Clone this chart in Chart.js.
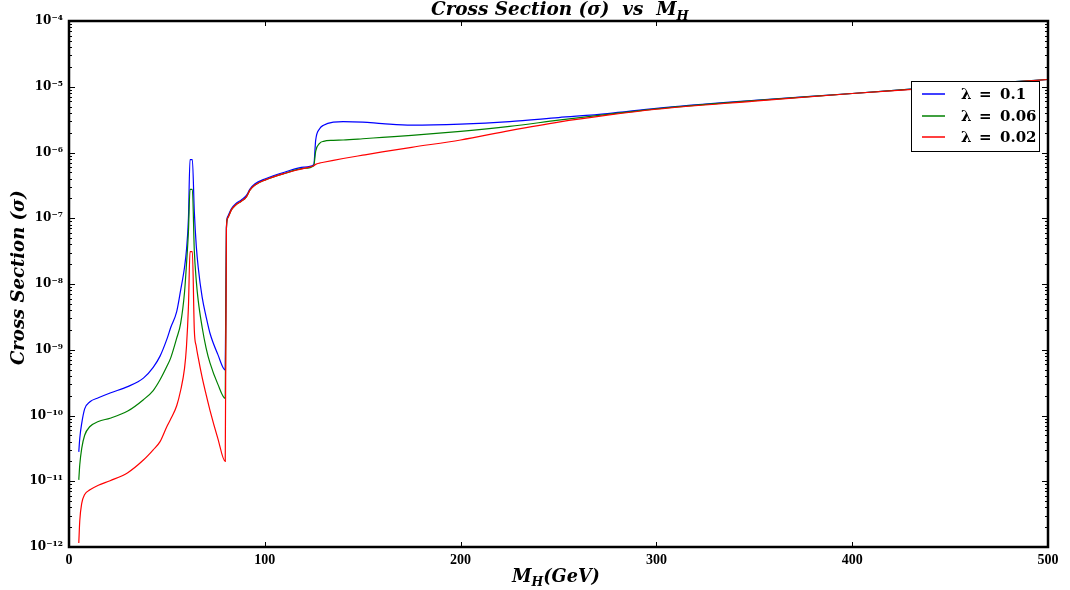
<!DOCTYPE html>
<html>
<head>
<meta charset="utf-8">
<script src="https://cdn.jsdelivr.net/npm/chart.js@4.4.1/dist/chart.umd.min.js"></script>
<style>
html,body{margin:0;padding:0;background:#ffffff;}
#wrap{width:1070px;height:590px;position:relative;}
canvas{display:block;}
</style>
</head>
<body>
<div id="wrap"><canvas id="c" width="1070" height="590"></canvas></div>
<script>
// ---- data ----
const massGeV = [5,5.5,6.5,8,10.7,15,21,30,38,43,46.5,50,52,55,57,59,60,61,61.8,63,64,65,66,68,70,72,76,79.8,
  80.4,81,83,85,88,90.5,92.5,95,100,110,120,125,
  126,128,130,135,140,150,160,175,200,225,250,275,300,350,400,450,500];

const sigmaLambda01 = [2.8e-11,4.5e-11,7.6e-11,1.26e-10,1.62e-10,1.86e-10,2.2e-10,2.75e-10,3.7e-10,5.4e-10,8.0e-10,1.45e-9,2.2e-9,3.8e-9,8.0e-9,1.8e-8,3.3e-8,1.0e-7,7.8e-7,7.8e-7,1.26e-7,3.8e-8,1.78e-8,6.3e-9,3.2e-9,1.78e-9,8.5e-10,4.9e-10,
  7.3e-8,1.05e-7,1.41e-7,1.65e-7,1.9e-7,2.2e-7,2.8e-7,3.35e-7,3.95e-7,5.0e-7,6.0e-7,6.5e-7,
  1.55e-6,2.3e-6,2.6e-6,2.9e-6,2.95e-6,2.9e-6,2.75e-6,2.6e-6,2.7e-6,2.95e-6,3.4e-6,3.9e-6,4.7e-6,6.2e-6,7.9e-6,1.02e-5,1.29e-5];

const sigmaLambda006 = [1.05e-11,1.78e-11,3.16e-11,5.0e-11,6.8e-11,8.1e-11,9.1e-11,1.17e-10,1.74e-10,2.4e-10,3.5e-10,5.6e-10,7.6e-10,1.5e-9,2.5e-9,7.5e-9,2.0e-8,6.3e-8,2.75e-7,2.75e-7,3.2e-8,1.12e-8,5.6e-9,2.2e-9,1.07e-9,6.3e-10,3.0e-10,1.82e-10,
  7.0e-8,1.0e-7,1.35e-7,1.58e-7,1.82e-7,2.1e-7,2.7e-7,3.2e-7,3.8e-7,4.8e-7,5.75e-7,6.3e-7,
  1.05e-6,1.38e-6,1.48e-6,1.53e-6,1.55e-6,1.62e-6,1.7e-6,1.82e-6,2.1e-6,2.5e-6,3.1e-6,3.8e-6,4.6e-6,6.15e-6,7.9e-6,1.02e-5,1.29e-5];

const sigmaLambda002 = [1.15e-12,2.5e-12,4.6e-12,6.3e-12,7.4e-12,8.7e-12,1.02e-11,1.35e-11,2.1e-11,3.0e-11,4.0e-11,6.8e-11,8.9e-11,1.41e-10,2.4e-10,5.2e-10,1.12e-9,4.5e-9,3.1e-8,3.1e-8,2.0e-9,1.12e-9,7.6e-10,3.8e-10,2.1e-10,1.2e-10,4.5e-11,2.0e-11,
  7.0e-8,1.0e-7,1.35e-7,1.58e-7,1.82e-7,2.1e-7,2.7e-7,3.2e-7,3.8e-7,4.8e-7,5.75e-7,6.3e-7,
  6.6e-7,6.9e-7,7.1e-7,7.6e-7,8.1e-7,9.1e-7,1.02e-6,1.2e-6,1.55e-6,2.15e-6,2.9e-6,3.7e-6,4.55e-6,6.05e-6,7.9e-6,1.0e-5,1.29e-5];

const lambdaLabels = ['0.1', '0.06', '0.02'];
const xTickValues = [0, 100, 200, 300, 400, 500];
const yTickValues = [1e-12, 1e-11, 1e-10, 1e-9, 1e-8, 1e-7, 1e-6, 1e-5, 1e-4];
const yTickLabels = ['10⁻¹²','10⁻¹¹','10⁻¹⁰','10⁻⁹','10⁻⁸','10⁻⁷','10⁻⁶','10⁻⁵','10⁻⁴'];
const yMinorMultipliers = [2,3,4,5,6,7,8,9];
const titleText = 'Cross Section (σ)  vs  M';
const titleSub = 'H';
const yTitleText = 'Cross Section (σ)';
const xTitleMain = 'M';
const xTitleSub = 'H';
const xTitleRest = '(GeV)';

// ---- styling ----
const seriesColors = ['#0000ff', '#008000', '#ff0000'];
const SERIF = '"DejaVu Serif", "Liberation Serif", serif';

function toPoints(arr) { return massGeV.map((m, i) => ({ x: m, y: arr[i] })); }

function fitFont(ctx, parts, target, style) {
  let w = 0;
  for (const p of parts) {
    ctx.font = style + ' ' + (20 * p.scale) + 'px ' + SERIF;
    w += ctx.measureText(p.text).width;
  }
  return 20 * target / w;
}
function drawRich(ctx, parts, x0, baseline, size, style) {
  let x = x0;
  for (const p of parts) {
    ctx.font = style + ' ' + (size * p.scale).toFixed(2) + 'px ' + SERIF;
    ctx.fillText(p.text, x, baseline + (p.dy || 0) * size);
    x += ctx.measureText(p.text).width;
  }
}

const decorPlugin = {
  id: 'decor',
  afterDraw(chart) {
    const ctx = chart.ctx;
    const a = chart.chartArea;
    const xs = chart.scales.x, ys = chart.scales.y;
    ctx.save();
    ctx.strokeStyle = '#000';
    ctx.lineWidth = 1;
    ctx.beginPath();
    for (const v of xTickValues) {
      const px = Math.round(xs.getPixelForValue(v)) + 0.5;
      ctx.moveTo(px, a.bottom); ctx.lineTo(px, a.bottom - 5);
      ctx.moveTo(px, a.top); ctx.lineTo(px, a.top + 5);
    }
    for (let i = 0; i < yTickValues.length; i++) {
      const v = yTickValues[i];
      const py = Math.round(ys.getPixelForValue(v)) + 0.5;
      ctx.moveTo(a.left, py); ctx.lineTo(a.left + 6, py);
      ctx.moveTo(a.right, py); ctx.lineTo(a.right - 6, py);
      if (i < yTickValues.length - 1) {
        for (const m of yMinorMultipliers) {
          const pm = Math.round(ys.getPixelForValue(v * m)) + 0.5;
          ctx.moveTo(a.left, pm); ctx.lineTo(a.left + 3, pm);
          ctx.moveTo(a.right, pm); ctx.lineTo(a.right - 3, pm);
        }
      }
    }
    ctx.stroke();
    ctx.lineWidth = 2.5;
    ctx.strokeRect(a.left, a.top, a.right - a.left, a.bottom - a.top);

    ctx.fillStyle = '#000';
    ctx.textAlign = 'left';
    ctx.textBaseline = 'alphabetic';
    const tParts = [{ text: titleText, scale: 1 }, { text: titleSub, scale: 0.7, dy: 0.25 }];
    const tSize = fitFont(ctx, tParts, 258, 'italic bold');
    drawRich(ctx, tParts, 431, 15, tSize, 'italic bold');
    const xParts = [{ text: xTitleMain, scale: 1 }, { text: xTitleSub, scale: 0.7, dy: 0.25 }, { text: xTitleRest, scale: 1 }];
    const xSize = fitFont(ctx, xParts, 88, 'italic bold');
    drawRich(ctx, xParts, 512, 582, xSize, 'italic bold');
    ctx.save();
    ctx.translate(24, 365);
    ctx.rotate(-Math.PI / 2);
    const yParts = [{ text: yTitleText, scale: 1 }];
    const ySize = fitFont(ctx, yParts, 175, 'italic bold');
    drawRich(ctx, yParts, 0, 0, ySize, 'italic bold');
    ctx.restore();

    const lx = 911.5, ly = 81.5, lw = 128, lh = 70;
    ctx.fillStyle = '#fff';
    ctx.fillRect(lx, ly, lw, lh);
    ctx.strokeStyle = '#000';
    ctx.lineWidth = 1;
    ctx.strokeRect(lx, ly, lw, lh);
    const rowY = [94, 116, 137];
    ctx.textBaseline = 'middle';
    for (let i = 0; i < lambdaLabels.length; i++) {
      ctx.strokeStyle = seriesColors[i];
      ctx.lineWidth = 1.5;
      ctx.beginPath();
      ctx.moveTo(922, rowY[i]); ctx.lineTo(945, rowY[i]);
      ctx.stroke();
      ctx.fillStyle = '#000';
      ctx.font = 'bold 15px ' + SERIF;
      ctx.fillText('λ', 961, rowY[i] + 1);
      ctx.fillText('=', 979, rowY[i] + 1);
      ctx.fillText(lambdaLabels[i], 1000, rowY[i] + 1);
    }
    ctx.restore();
  }
};

const ctx = document.getElementById('c').getContext('2d');
new Chart(ctx, {
  type: 'line',
  data: {
    datasets: [
      { label: 'λ = ' + lambdaLabels[0], data: toPoints(sigmaLambda01), borderColor: seriesColors[0], order: 3 },
      { label: 'λ = ' + lambdaLabels[1], data: toPoints(sigmaLambda006), borderColor: seriesColors[1], order: 2 },
      { label: 'λ = ' + lambdaLabels[2], data: toPoints(sigmaLambda002), borderColor: seriesColors[2], order: 1 }
    ]
  },
  options: {
    responsive: false,
    animation: false,
    devicePixelRatio: 1,
    elements: {
      line: { borderWidth: 1.2, cubicInterpolationMode: 'monotone', fill: false },
      point: { radius: 0, hoverRadius: 0 }
    },
    layout: { padding: { top: 21, right: 22, left: 0, bottom: 0 } },
    plugins: {
      legend: { display: false },
      title: { display: false },
      tooltip: { enabled: false }
    },
    scales: {
      x: {
        type: 'linear',
        min: 0, max: 500,
        grid: { display: false, drawTicks: false },
        border: { display: false },
        afterBuildTicks: (s) => { s.ticks = xTickValues.map(v => ({ value: v })); },
        afterFit: (s) => { s.height = 43; },
        ticks: {
          padding: 5,
          color: '#000',
          font: { family: '"Liberation Serif", serif', weight: 'bold', size: 14 },
          maxRotation: 0,
          callback: (v) => String(v)
        }
      },
      y: {
        type: 'logarithmic',
        min: 1e-12, max: 1e-4,
        grid: { display: false, drawTicks: false },
        border: { display: false },
        afterBuildTicks: (s) => { s.ticks = yTickValues.map(v => ({ value: v })); },
        afterFit: (s) => { s.width = 69; },
        ticks: {
          padding: 6,
          color: '#000',
          font: { family: SERIF, weight: 'bold', size: 12 },
          callback: (v, i) => yTickLabels[i]
        }
      }
    }
  },
  plugins: [decorPlugin]
});
</script>
</body>
</html>
